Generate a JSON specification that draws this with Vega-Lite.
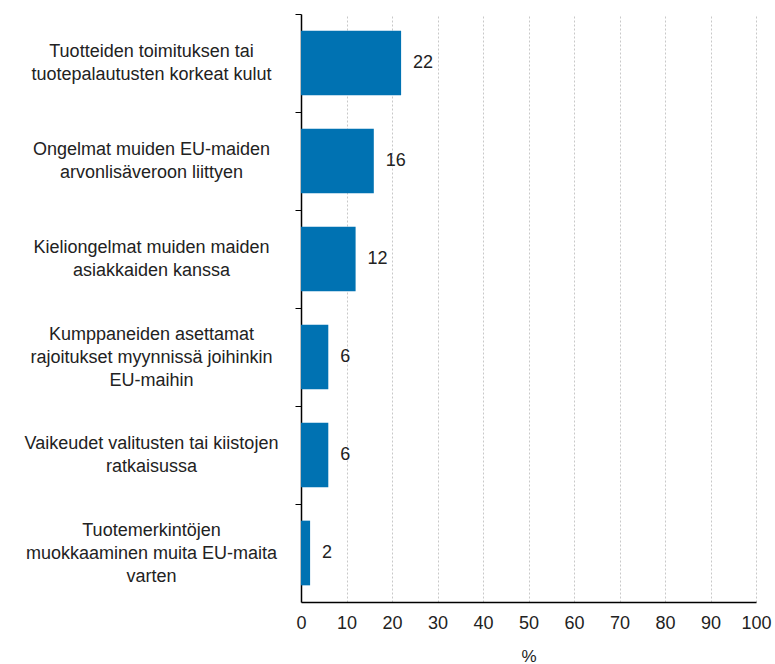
{
  "$schema": "https://vega.github.io/schema/vega-lite/v6.json",
  "autosize": "none",
  "width": 455,
  "height": 588,
  "padding": {"left": 301, "top": 14, "right": 19, "bottom": 62},
  "background": "white",
  "config": {
    "font": "Liberation Sans",
    "view": {"stroke": null}
  },
  "data": {
    "values": [
      {"syy": "Tuotteiden toimituksen tai|tuotepalautusten korkeat kulut", "osuus": 22},
      {"syy": "Ongelmat muiden EU-maiden|arvonlisäveroon liittyen", "osuus": 16},
      {"syy": "Kieliongelmat muiden maiden|asiakkaiden kanssa", "osuus": 12},
      {"syy": "Kumppaneiden asettamat|rajoitukset myynnissä joihinkin|EU-maihin", "osuus": 6},
      {"syy": "Vaikeudet valitusten tai kiistojen|ratkaisussa", "osuus": 6},
      {"syy": "Tuotemerkintöjen|muokkaaminen muita EU-maita|varten", "osuus": 2}
    ]
  },
  "encoding": {
    "y": {
      "field": "syy",
      "type": "nominal",
      "sort": null,
      "scale": {"paddingInner": 0.34, "paddingOuter": 0.17},
      "axis": {
        "title": null,
        "labelExpr": "split(datum.value, '|')",
        "labelAlign": "center",
        "labelPadding": 144,
        "labelFontSize": 18,
        "labelColor": "#222222",
        "labelLineHeight": 23,
        "labelLimit": 400,
        "tickSize": 6,
        "tickOffset": -49,
        "labelOffset": {
          "condition": {"test": "length(split(datum.value, '|')) == 3", "value": 26},
          "value": 37.5
        },
        "tickColor": "#000000",
        "domainColor": "#000000",
        "domainWidth": 1.5,
        "grid": false
      }
    },
    "x": {
      "field": "osuus",
      "type": "quantitative",
      "scale": {"domain": [0, 100]},
      "axis": {
        "title": "%",
        "titleFontSize": 17,
        "titleFontWeight": "normal",
        "titleColor": "#222222",
        "titlePadding": 16,
        "values": [0, 10, 20, 30, 40, 50, 60, 70, 80, 90, 100],
        "labelFontSize": 18,
        "labelColor": "#222222",
        "labelPadding": 12,
        "labelFlush": false,
        "labelOverlap": false,
        "ticks": false,
        "domainColor": "#000000",
        "domainWidth": 1.5,
        "grid": true,
        "gridColor": "#c8c8c8",
        "gridDash": [2, 2]
      }
    }
  },
  "layer": [
    {"mark": {"type": "bar", "color": "#0072B2"}},
    {
      "mark": {"type": "text", "align": "left", "dx": 12, "fontSize": 18, "color": "#222222"},
      "encoding": {"text": {"field": "osuus", "type": "quantitative"}}
    }
  ]
}
